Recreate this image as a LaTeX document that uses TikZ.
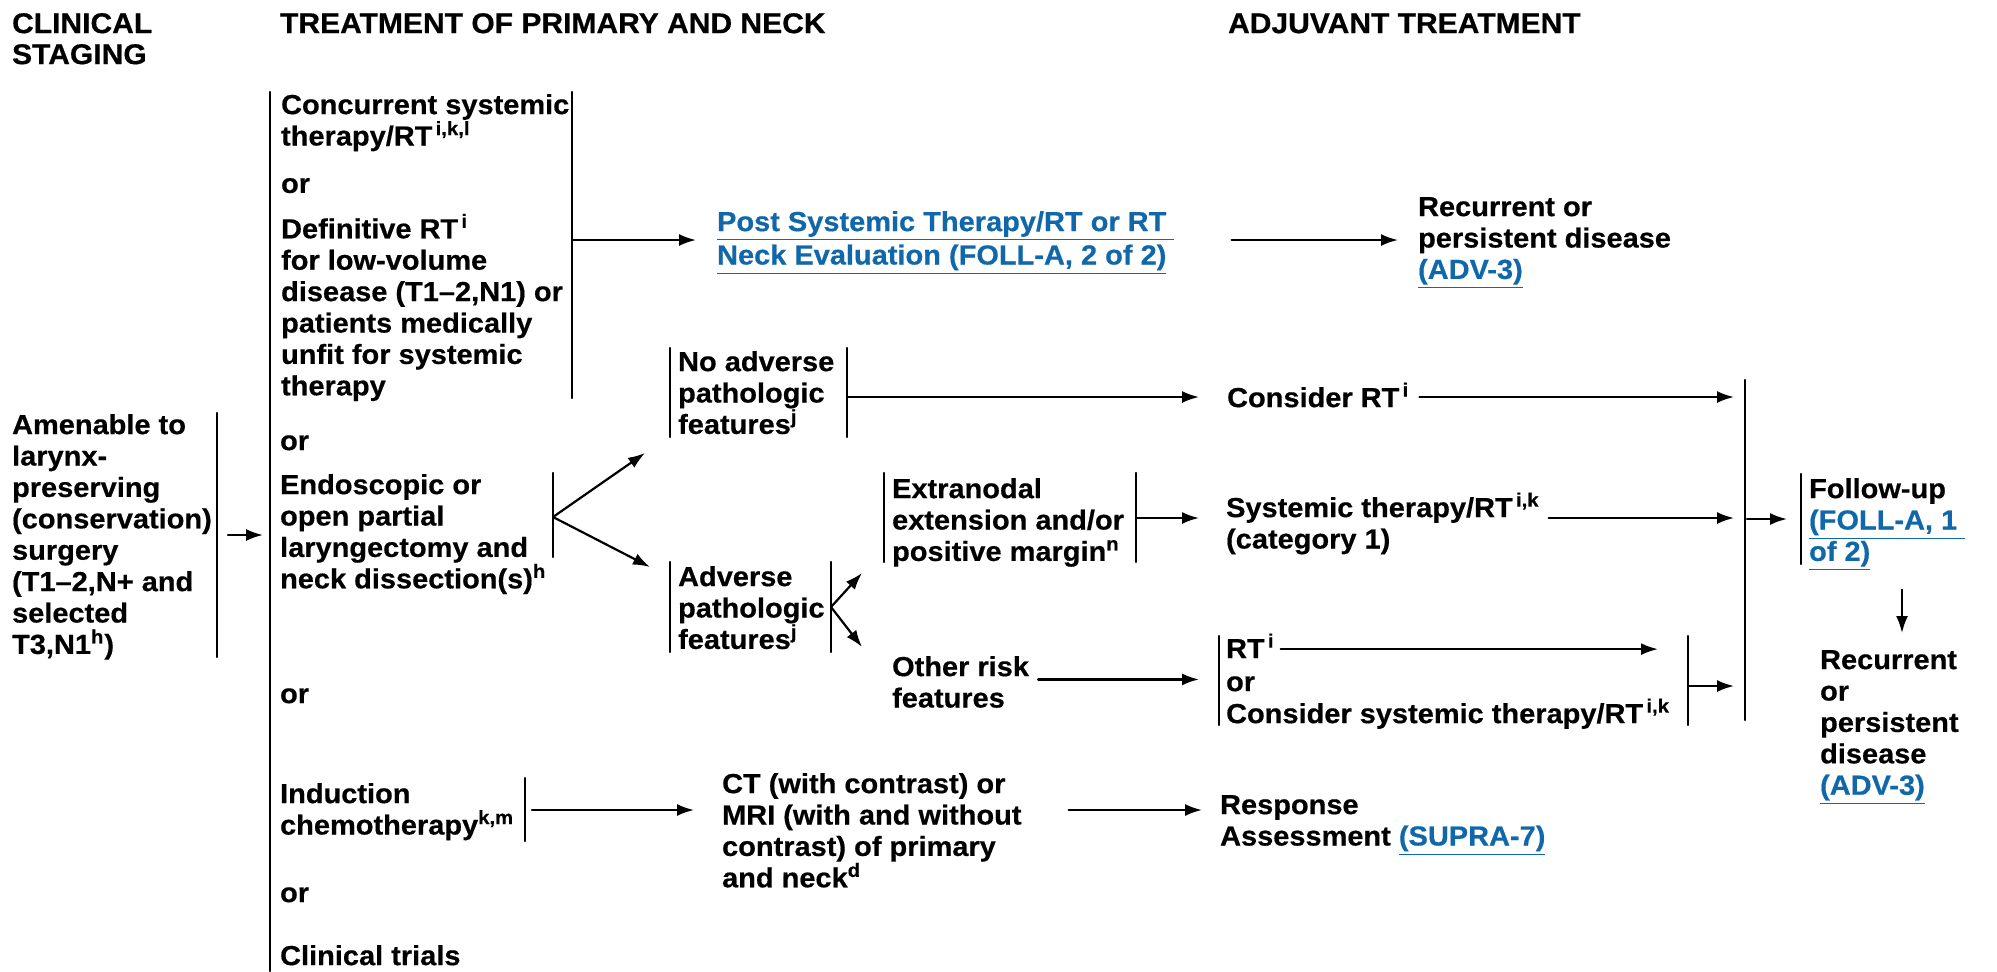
\documentclass[tikz,border=0pt]{standalone}
\usepackage{fontspec}
\setmainfont{Liberation Sans}[FakeStretch=1.05,BoldFeatures={FakeBold=0.5}]
\usetikzlibrary{arrows.meta}
\definecolor{linkblue}{RGB}{16,104,170}
\newcommand{\lnk}[1]{\textcolor{linkblue}{\underline{#1}}}
\newcommand{\hd}{\rule{0pt}{12.5pt}}
\newcommand{\sps}[1]{\textsuperscript{#1}}
\tikzset{
  txt/.style={anchor=north west,inner sep=0pt,align=left,
    font=\fontsize{13.8pt}{15.7pt}\selectfont\bfseries},
  hdr/.style={txt,font=\fontsize{14.3pt}{15.5pt}\selectfont\bfseries}
}
\begin{document}
\begin{tikzpicture}[x=0.5pt,y=-0.5pt,line join=round,line cap=round,
  line width=1.1pt,>={Latex[length=8.5pt,width=6pt]}]
\useasboundingbox (0,0) rectangle (1997,971);
% headings
\node[hdr] (hdrStage) at (11,7) {\hd CLINICAL\\STAGING};
\node[hdr] (hdrTreat) at (279,7) {\hd TREATMENT OF PRIMARY AND NECK};
\node[hdr] (hdrAdj) at (1227,7) {\hd ADJUVANT TREATMENT};
% staging and primary treatment
\node[txt] (amen) at (11,408) {\hd Amenable to\\larynx-\\preserving\\(conservation)\\surgery\\(T1–2,N+ and\\selected\\T3,N1\sps{h})};
\node[txt] (conc) at (280,88) {\hd Concurrent systemic\\therapy/RT\sps{\,i,k,l}\\[8pt]or\\[7pt]Definitive RT\sps{\,i}\\for low-volume\\disease (T1–2,N1) or\\patients medically\\unfit for systemic\\therapy};
\node[txt] (or1) at (279,424) {\hd or};
\node[txt] (endo) at (279,468) {\hd Endoscopic or\\open partial\\laryngectomy and\\neck dissection(s)\sps{h}};
\node[txt] (or2) at (279,677) {\hd or};
\node[txt] (induc) at (279,777) {\hd Induction\\chemotherapy\sps{k,m}};
\node[txt] (or3) at (279,876) {\hd or};
\node[txt] (trials) at (279,939) {\hd Clinical trials};
\node[txt] (post) at (716,205) {\hd\lnk{Post Systemic Therapy/RT or RT\ }\\[1pt]\lnk{Neck Evaluation (FOLL-A, 2 of 2)}};
\node[txt] (recur1) at (1417,190) {\hd Recurrent or\\persistent disease\\\lnk{(ADV-3)}};
\node[txt] (noadv) at (677,345) {\hd No adverse\\pathologic\\features\sps{j}};
\node[txt] (adv) at (677,560) {\hd Adverse\\pathologic\\features\sps{j}};
\node[txt] (extra) at (891,472) {\hd Extranodal\\extension and/or\\positive margin\sps{n}};
\node[txt] (other) at (891,650) {\hd Other risk\\features};
\node[txt] (ct) at (721,767) {\hd CT (with contrast) or\\MRI (with and without\\contrast) of primary\\and neck\sps{d}};
% adjuvant treatment
\node[txt] (consRT) at (1226,381) {\hd Consider RT\sps{\,i}};
\node[txt] (systRT) at (1225,491) {\hd Systemic therapy/RT\sps{\,i,k}\\(category 1)};
\node[txt] (rtA) at (1225,632) {\hd RT\sps{\,i}};
\node[txt] (rtOr) at (1225,665) {\hd or};
\node[txt] (rtB) at (1225,697) {\hd Consider systemic therapy/RT\sps{\,i,k}};
\node[txt] (resp) at (1219,788) {\hd Response\\Assessment \lnk{(SUPRA-7)}};
\node[txt] (follow) at (1808,472) {\hd Follow-up\\\lnk{(FOLL-A, 1\ }\\\lnk{of 2)}};
\node[txt] (recur2) at (1819,643) {\hd Recurrent\\or\\persistent\\disease\\\lnk{(ADV-3)}};
% brackets
\draw (270,92) -- (270,971) (217,413) -- (217,657) (572,92) -- (572,398)
  (553,473) -- (553,557)
  (670,348) -- (670,437) (847,348) -- (847,437)
  (670,562) -- (670,652) (831,562) -- (831,652)
  (884,473) -- (884,562) (1136,473) -- (1136,562)
  (525,778) -- (525,841)
  (1219,636) -- (1219,725) (1688,636) -- (1688,725)
  (1745,380) -- (1745,720) (1801,474) -- (1801,564);
\path (217,535) coordinate (amenM) (270,92) coordinate (mainT)
  (572,240) coordinate (concM) (553,517) coordinate (endoF)
  (645,453) coordinate (noadvTip) (650,567) coordinate (advTip)
  (847,397) coordinate (noadvM) (831,607) coordinate (advF)
  (862,573) coordinate (extraTip) (862,647) coordinate (otherTip)
  (1136,518) coordinate (extraM) (525,810) coordinate (inducM)
  (1219,636) coordinate (rtT) (1688,686) coordinate (rtM)
  (1745,380) coordinate (bigT) (1745,519) coordinate (bigM)
  (1801,474) coordinate (followT) (1902,0) coordinate (downX);
% connectors
\draw[->,shorten <=5.5pt,shorten >=3.5pt] (amenM) -- (amenM -| mainT);
\draw[->,shorten >=10pt] (concM) -- (concM -| post.west);
\draw[->,shorten <=28pt,shorten >=9.5pt] (post.east |- concM) -- (concM -| recur1.west);
\draw[->] (endoF) -- (noadvTip);
\draw[->] (endoF) -- (advTip);
\draw[->,shorten >=13.5pt] (noadvM) -- (noadvM -| consRT.west);
\draw[->,shorten <=4.5pt,shorten >=5.5pt] (consRT.east |- noadvM) -- (noadvM -| bigT);
\draw[->] (advF) -- (extraTip);
\draw[->] (advF) -- (otherTip);
\draw[->,shorten >=13pt] (extraM) -- (extraM -| systRT.west);
\draw[->,shorten <=4pt,shorten >=5.5pt] (systRT.east |- extraM) -- (extraM -| bigT);
\draw[->,shorten <=4pt,shorten >=10pt] (other.east) -- (other.east -| rtT);
\draw[->,shorten <=2.5pt,shorten >=15pt] ([yshift=4.5pt]rtA.base east) -- ([yshift=4.5pt]rtA.base east -| rtM);
\draw[->,shorten >=5.5pt] (rtM) -- (rtM -| bigT);
\draw[->,shorten <=1pt,shorten >=7pt] (bigM) -- (bigM -| followT);
\draw[->,shorten <=9pt,shorten >=5pt] (follow.south -| downX) -- (recur2.north -| downX);
\draw[->,shorten <=3.5pt,shorten >=13.5pt] (inducM) -- (inducM -| ct.west);
\draw[->,shorten <=23pt,shorten >=8.5pt] (ct.east |- inducM) -- (inducM -| resp.west);
\end{tikzpicture}
\end{document}
